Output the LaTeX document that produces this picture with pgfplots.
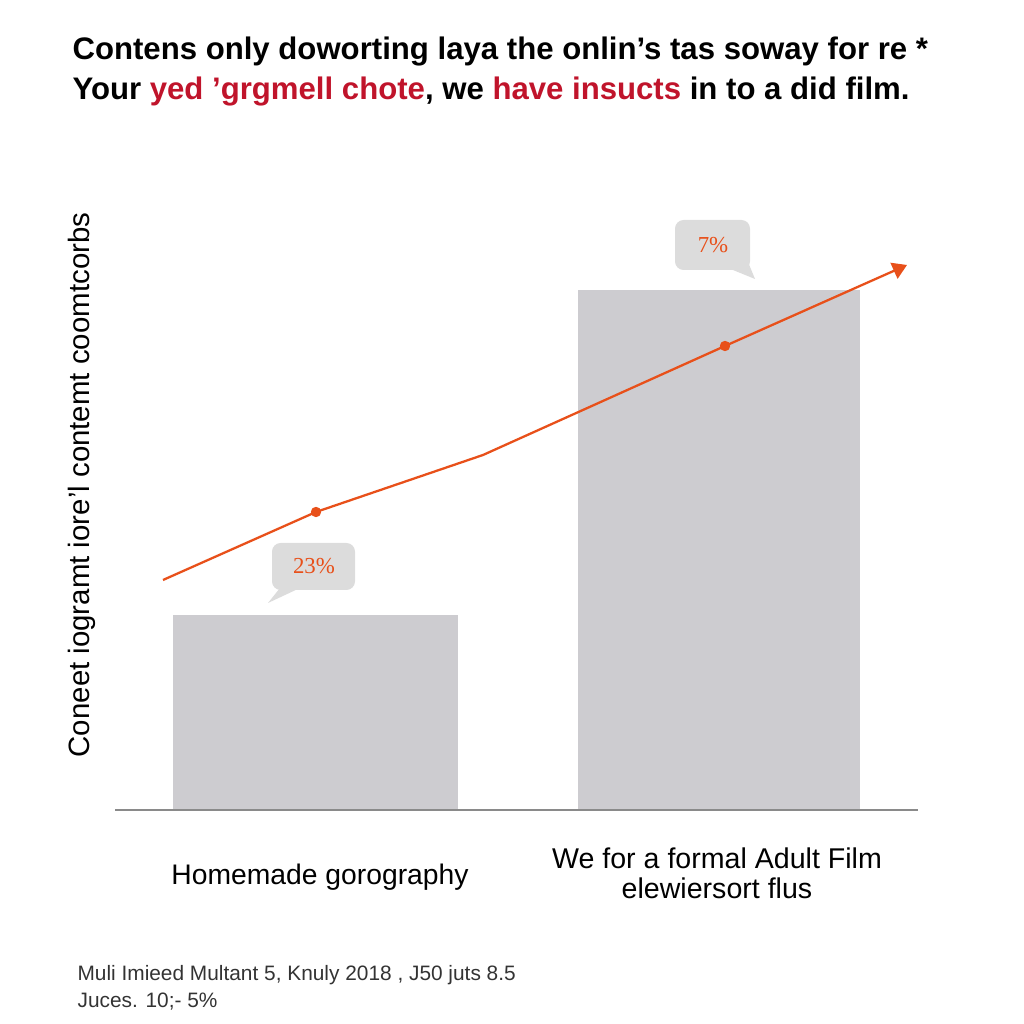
\documentclass[border=0pt]{standalone}
\usepackage{pgfplots}
\pgfplotsset{compat=1.18}
\usepackage{fontspec}
\setmainfont{Liberation Sans}
\newfontfamily\serifnum{Liberation Serif}
\usetikzlibrary{arrows.meta}
\definecolor{barg}{HTML}{CDCCD0}
\definecolor{lineo}{HTML}{E8501A}
\definecolor{titred}{HTML}{C0142B}
\definecolor{bubg}{HTML}{DCDCDC}
\definecolor{axg}{HTML}{8A8A8A}
\begin{document}
\begin{tikzpicture}
\begin{axis}[
  x=0.35pt, y=0.35pt,
  xmin=0, xmax=1024, ymin=0, ymax=1024,
  hide axis, clip=false,
  scale only axis,
]
\path (axis cs:0,0) rectangle (axis cs:1024,1024);
% bars
\addplot[fill=barg, draw=none] coordinates {(173,214) (173,409) (458,409) (458,214)} --cycle;
\addplot[fill=barg, draw=none] coordinates {(578,214) (578,734) (860,734) (860,214)} --cycle;
% baseline
\draw[axg, line width=0.5pt] (axis cs:115,214) -- (axis cs:918,214);
% trend line
\addplot[lineo, line width=0.8pt, -{Triangle[length=5pt,width=6pt]}] coordinates {(163,444) (316,512) (483,569) (725,678) (907,759)};
\addplot[only marks, mark=*, mark size=1.6pt, color=lineo] coordinates {(316,512) (725,678)};
% callouts
\fill[bubg, rounded corners=3pt] (axis cs:272,434) rectangle (axis cs:355,481);
\fill[bubg] (axis cs:280,436) -- (axis cs:268,421) -- (axis cs:300,436) -- cycle;
\node[text=lineo, font=\serifnum\fontsize{8}{9}\selectfont] at (axis cs:314,458) {23\%};
\fill[bubg, rounded corners=3pt] (axis cs:675,754) rectangle (axis cs:750,804);
\fill[bubg] (axis cs:728,756) -- (axis cs:755,745) -- (axis cs:748,762) -- cycle;
\node[text=lineo, font=\serifnum\fontsize{8}{9}\selectfont] at (axis cs:713,779) {7\%};
% titles
\node[anchor=west, font=\bfseries\fontsize{10.9}{12}\selectfont, inner sep=0pt] at (axis cs:72,972) {Contens only doworting laya the onlin’s tas soway for re *};
\node[anchor=west, font=\bfseries\fontsize{10.9}{12}\selectfont, inner sep=0pt] at (axis cs:72,932) {Your \textcolor{titred}{yed 'grgmell chote}, we \textcolor{titred}{have insucts} in to a did film.};
% y label
\node[rotate=90, font=\fontsize{10.3}{12}\selectfont, inner sep=0pt] at (axis cs:82,539) {Coneet iogramt iore'l contemt coomtcorbs};
% category labels
\node[font=\fontsize{9.9}{11}\selectfont] at (axis cs:320,147) {Homemade gorography};
\node[font=\fontsize{10}{10.5}\selectfont, align=center] at (axis cs:717,151) {We for a formal Adult Film\\elewiersort flus};
% footer
\node[anchor=west, font=\fontsize{7.3}{8}\selectfont, text=black!80, inner sep=0pt] at (axis cs:77,49) {Muli Imieed Multant 5, Knuly 2018 , J50 juts 8.5};
\node[anchor=west, font=\fontsize{7.3}{8}\selectfont, text=black!80, inner sep=0pt] at (axis cs:77,22) {Juces. 10;- 5\%};
\end{axis}
\end{tikzpicture}
\end{document}
